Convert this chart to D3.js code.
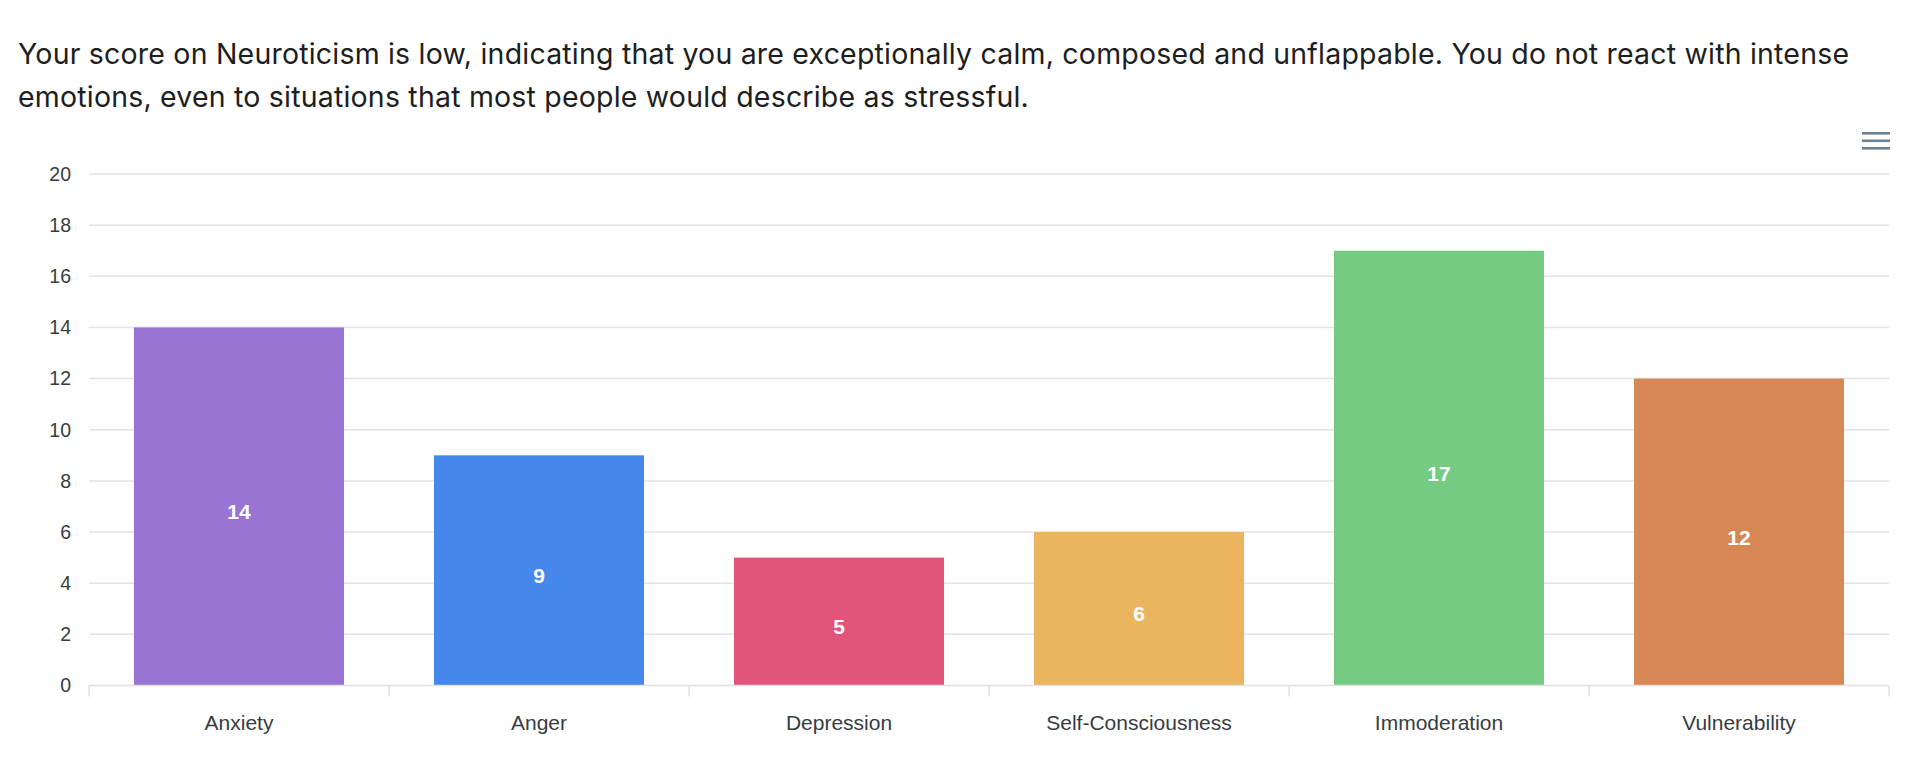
<!DOCTYPE html>
<html>
<head>
<meta charset="utf-8">
<script src="https://cdn.jsdelivr.net/npm/d3@7"></script>
<style>
  html, body { margin: 0; padding: 0; background: #fff; width: 1920px; height: 763px; overflow: hidden; }
  svg { display: block; }
</style>
</head>
<body>
<svg id="chart" width="1920" height="763"></svg>
<script>
const titleLines = [
  "Your score on Neuroticism is low, indicating that you are exceptionally calm, composed and unflappable. You do not react with intense",
  "emotions, even to situations that most people would describe as stressful."
];
const categories = ["Anxiety", "Anger", "Depression", "Self-Consciousness", "Immoderation", "Vulnerability"];
const values = [14, 9, 5, 6, 17, 12];
const colors = ["#9a74d3", "#4587ea", "#e3547b", "#ebb45f", "#74cb81", "#d88854"];
const yTicks = [0, 2, 4, 6, 8, 10, 12, 14, 16, 18, 20];

const svg = d3.select("#chart");
const margin = {left: 89, right: 31, top: 174, bottom: 77.5};
const W = 1920, H = 763;

// Title paragraph
const title = svg.append("text")
  .attr("font-family", "Inter, 'Open Sans', sans-serif")
  .attr("font-size", 28.5)
  .attr("letter-spacing", 0.2)
  .attr("fill", "#1c1e21");
titleLines.forEach((t, i) => {
  title.append("tspan").attr("x", 18).attr("y", 64 + i * 43).text(t);
});

const x = d3.scaleBand().domain(categories).range([margin.left, W - margin.right]).paddingInner(0.3).paddingOuter(0.15);
const xb = d3.scaleBand().domain(categories).range([margin.left, W - margin.right]).padding(0);
const y = d3.scaleLinear().domain([0, 20]).range([H - margin.bottom, margin.top]);

// gridlines
svg.append("g").selectAll("line").data(yTicks.filter(d => d > 0)).join("line")
  .attr("x1", margin.left).attr("x2", W - margin.right)
  .attr("y1", d => y(d)).attr("y2", d => y(d))
  .attr("stroke", "#e3e3e3").attr("stroke-width", 1.5);

// y axis labels
const yAxis = svg.append("g").attr("transform", `translate(${margin.left - 18},0)`)
  .call(d3.axisLeft(y).tickValues(yTicks).tickSize(0).tickPadding(0));
yAxis.select(".domain").remove();
yAxis.selectAll("text")
  .attr("font-family", "Helvetica, Arial, 'Liberation Sans', sans-serif")
  .attr("font-size", 19.5).attr("fill", "#373d3f");

// bars
svg.append("g").selectAll("rect").data(values).join("rect")
  .attr("x", (d, i) => x(categories[i]))
  .attr("width", x.bandwidth())
  .attr("y", d => y(d))
  .attr("height", d => y(0) - y(d))
  .attr("fill", (d, i) => colors[i]);

// data labels
svg.append("g").selectAll("text").data(values).join("text")
  .attr("x", (d, i) => x(categories[i]) + x.bandwidth() / 2)
  .attr("y", d => (y(d) + y(0)) / 2 + 5)
  .attr("dy", "0.36em")
  .attr("text-anchor", "middle")
  .attr("font-family", "Helvetica, Arial, 'Liberation Sans', sans-serif")
  .attr("font-weight", "bold").attr("font-size", 21).attr("fill", "#fff")
  .text(d => d);

// x axis
const xAxisG = svg.append("g").attr("transform", `translate(0,${y(0)})`);
xAxisG.append("line").attr("x1", margin.left).attr("x2", W - margin.right)
  .attr("y1", 0).attr("y2", 0).attr("stroke", "#e0e0e0").attr("stroke-width", 1.5);
const boundaries = categories.map(c => xb(c)).concat([W - margin.right]);
xAxisG.selectAll("line.tick").data(boundaries).join("line").attr("class", "tick")
  .attr("x1", d => d).attr("x2", d => d).attr("y1", 0).attr("y2", 11)
  .attr("stroke", "#e0e0e0").attr("stroke-width", 1.5);
const xAxis = xAxisG.append("g").call(d3.axisBottom(x).tickSize(0).tickPadding(0));
xAxis.select(".domain").remove();
xAxis.selectAll("text")
  .attr("y", 44.5).attr("dy", 0)
  .attr("font-family", "Helvetica, Arial, 'Liberation Sans', sans-serif")
  .attr("font-size", 21).attr("fill", "#373d3f");

// menu icon
svg.append("g").selectAll("line").data([0, 1, 2]).join("line")
  .attr("x1", 1862).attr("x2", 1890)
  .attr("y1", d => 133.3 + d * 7.5).attr("y2", d => 133.3 + d * 7.5)
  .attr("stroke", "#6e8192").attr("stroke-width", 2.6);
</script>
</body>
</html>
